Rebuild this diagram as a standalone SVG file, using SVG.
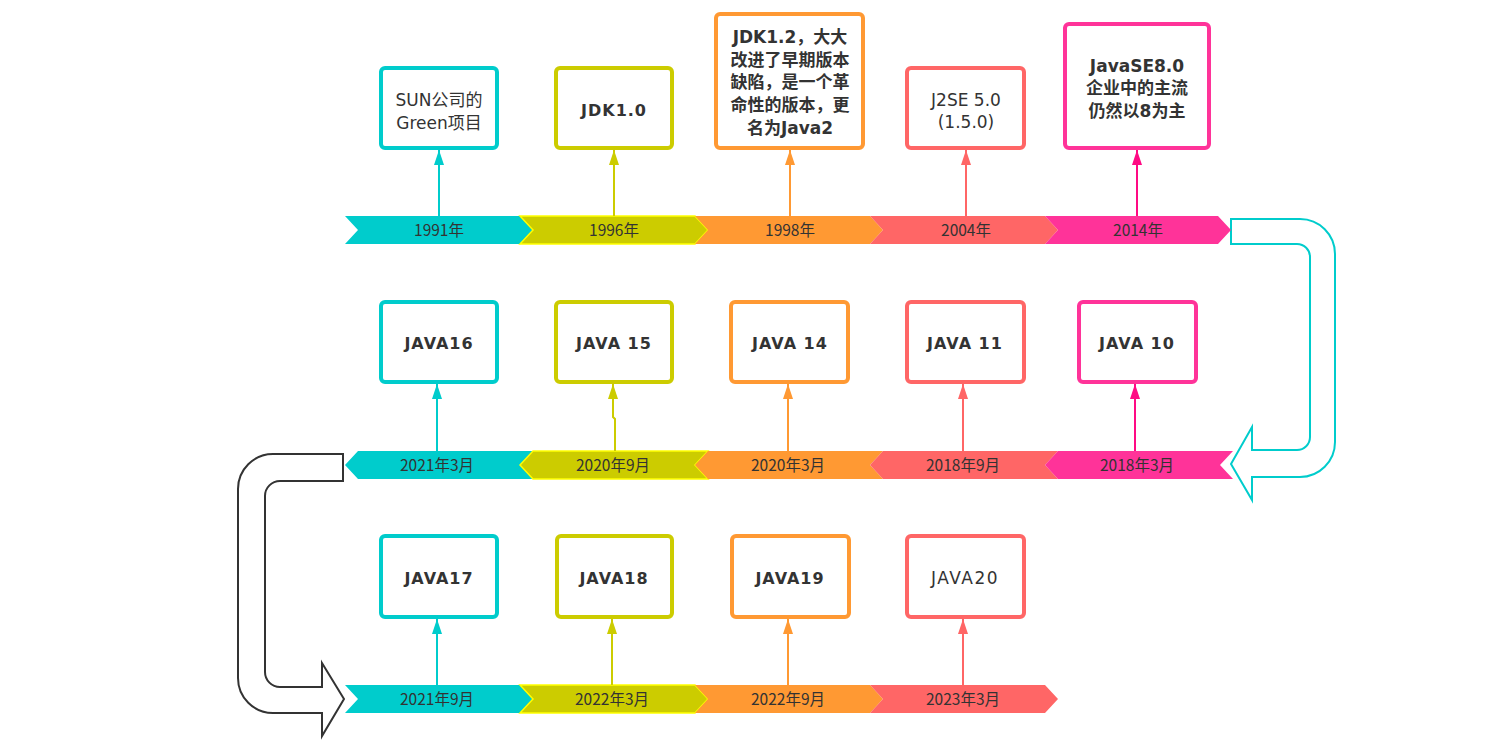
<svg xmlns="http://www.w3.org/2000/svg" width="1505" height="749" viewBox="0 0 1505 749">
<style>
.bg{fill:#ffffff}
.box{fill:#ffffff;stroke-width:4}
.c1{stroke:#00CCCC}.c2{stroke:#CCCC00}.c3{stroke:#FF9933}.c4{stroke:#FF6666}.c5{stroke:#FF3399}
.f1{fill:#00CCCC}.f2{fill:#CCCC00;stroke:#FFFF00;stroke-width:1.5}.f3{fill:#FF9933}.f4{fill:#FF6666}.f5{fill:#FF3399}
.lab{font-family:"Noto Sans CJK SC","Noto Sans",sans-serif;font-size:15.5px;fill:#333333;text-anchor:middle}
.bt{font-family:"DejaVu Sans","Noto Sans CJK SC",sans-serif;font-size:16px;font-weight:bold;fill:#333333;text-anchor:middle;letter-spacing:1px}
.nt{font-family:"DejaVu Sans","Noto Sans CJK SC",sans-serif;font-size:17px;fill:#333333;text-anchor:middle}
.ct{font-family:"DejaVu Sans","Noto Sans CJK SC",sans-serif;font-size:17px;font-weight:bold;fill:#333333;text-anchor:middle}
.ln{fill:none;stroke-width:2}
.a1{stroke:#00CCCC}.a2{stroke:#CCCC00}.a3{stroke:#FF9933}.a4{stroke:#FF6666}.a5{stroke:#FF0A84}
</style>
<defs>
<marker id="m1" viewBox="0 0 15 10" refX="15" refY="5" markerWidth="15" markerHeight="10" orient="auto" markerUnits="userSpaceOnUse"><path d="M0,0 L15,5 L0,10 Z" fill="#00CCCC"/></marker>
<marker id="m2" viewBox="0 0 15 10" refX="15" refY="5" markerWidth="15" markerHeight="10" orient="auto" markerUnits="userSpaceOnUse"><path d="M0,0 L15,5 L0,10 Z" fill="#CCCC00"/></marker>
<marker id="m3" viewBox="0 0 15 10" refX="15" refY="5" markerWidth="15" markerHeight="10" orient="auto" markerUnits="userSpaceOnUse"><path d="M0,0 L15,5 L0,10 Z" fill="#FF9933"/></marker>
<marker id="m4" viewBox="0 0 15 10" refX="15" refY="5" markerWidth="15" markerHeight="10" orient="auto" markerUnits="userSpaceOnUse"><path d="M0,0 L15,5 L0,10 Z" fill="#FF6666"/></marker>
<marker id="m5" viewBox="0 0 15 10" refX="15" refY="5" markerWidth="15" markerHeight="10" orient="auto" markerUnits="userSpaceOnUse"><path d="M0,0 L15,5 L0,10 Z" fill="#FF0A84"/></marker>
</defs>
<rect class="bg" x="0" y="0" width="1505" height="749"/>

<!-- turn arrows -->
<g id="turn-right">
<path d="M1231,219 L1300,219 A35,35 0 0 1 1335,254 L1335,442 A35,35 0 0 1 1300,477 L1252,477 L1252,500 L1231,464 L1252,427 L1252,450 L1297,450 A13,13 0 0 0 1310,437 L1310,257 A13,13 0 0 0 1297,244 L1231,244 Z" fill="#ffffff" stroke="#00CCCC" stroke-width="2"/>
</g>
<g id="turn-left">
<path d="M343,454 L273,454 A35,35 0 0 0 238,489 L238,678 A35,35 0 0 0 273,713 L322,713 L322,736 L344,699 L322,663 L322,687 L280,687 A15,15 0 0 1 265,672 L265,496 A15,15 0 0 1 280,481 L343,481 Z" fill="#ffffff" stroke="#333333" stroke-width="2"/>
</g>

<!-- row 1 band -->
<g id="band1">
<path class="f1" d="M345,216 L520,216 L533,230 L520,244 L345,244 L358,230 Z"/>
<path class="f2" d="M520,216 L695,216 L708,230 L695,244 L520,244 L533,230 Z"/>
<path class="f3" d="M695,216 L870,216 L883,230 L870,244 L695,244 L708,230 Z"/>
<path class="f4" d="M870,216 L1045,216 L1058,230 L1045,244 L870,244 L883,230 Z"/>
<path class="f5" d="M1045,216 L1218,216 L1231,230 L1218,244 L1045,244 L1058,230 Z"/>
<text class="lab" x="439" y="236">1991年</text>
<text class="lab" x="614" y="236">1996年</text>
<text class="lab" x="790" y="236">1998年</text>
<text class="lab" x="966" y="236">2004年</text>
<text class="lab" x="1138" y="236">2014年</text>
</g>

<!-- row 2 band -->
<g id="band2">
<path class="f1" d="M345,465 L358,451 L533,451 L520,465 L533,479 L358,479 Z"/>
<path class="f2" d="M520,465 L533,451 L708,451 L695,465 L708,479 L533,479 Z"/>
<path class="f3" d="M695,465 L708,451 L883,451 L870,465 L883,479 L708,479 Z"/>
<path class="f4" d="M870,465 L883,451 L1058,451 L1045,465 L1058,479 L883,479 Z"/>
<path class="f5" d="M1045,465 L1058,451 L1233,451 L1220,465 L1233,479 L1058,479 Z"/>
<text class="lab" x="437" y="471">2021年3月</text>
<text class="lab" x="613" y="471">2020年9月</text>
<text class="lab" x="788" y="471">2020年3月</text>
<text class="lab" x="963" y="471">2018年9月</text>
<text class="lab" x="1137" y="471">2018年3月</text>
</g>

<!-- row 3 band -->
<g id="band3">
<path class="f1" d="M345,685 L520,685 L533,699 L520,713 L345,713 L358,699 Z"/>
<path class="f2" d="M520,685 L695,685 L708,699 L695,713 L520,713 L533,699 Z"/>
<path class="f3" d="M695,685 L870,685 L883,699 L870,713 L695,713 L708,699 Z"/>
<path class="f4" d="M870,685 L1045,685 L1058,699 L1045,713 L870,713 L883,699 Z"/>
<text class="lab" x="437" y="705">2021年9月</text>
<text class="lab" x="612" y="705">2022年3月</text>
<text class="lab" x="788" y="705">2022年9月</text>
<text class="lab" x="963" y="705">2023年3月</text>
</g>

<!-- connectors -->
<g id="connectors">
<path class="ln a1" d="M439,216 V150" marker-end="url(#m1)"/>
<path class="ln a2" d="M614,216 V150" marker-end="url(#m2)"/>
<path class="ln a3" d="M790,216 V150" marker-end="url(#m3)"/>
<path class="ln a4" d="M966,216 V150" marker-end="url(#m4)"/>
<path class="ln a5" d="M1137,216 V150" marker-end="url(#m5)"/>
<path class="ln a1" d="M437,451 V384" marker-end="url(#m1)"/>
<path class="ln a2" d="M615,451 V419 L613,417 V384" marker-end="url(#m2)"/>
<path class="ln a3" d="M788,451 V384" marker-end="url(#m3)"/>
<path class="ln a4" d="M963,451 V384" marker-end="url(#m4)"/>
<path class="ln a5" d="M1135,451 V384" marker-end="url(#m5)"/>
<path class="ln a1" d="M437,685 V619" marker-end="url(#m1)"/>
<path class="ln a2" d="M612,685 V619" marker-end="url(#m2)"/>
<path class="ln a3" d="M788,685 V619" marker-end="url(#m3)"/>
<path class="ln a4" d="M963,685 V619" marker-end="url(#m4)"/>
</g>

<!-- row 1 nodes -->
<g id="n1991"><rect class="box c1" x="381" y="68" width="116" height="80" rx="4"/>
<text class="nt" x="439" y="106">SUN公司的</text><text class="nt" x="439" y="129">Green项目</text></g>
<g id="n1996"><rect class="box c2" x="556" y="68" width="116" height="80" rx="4"/>
<text class="bt" x="614" y="116">JDK1.0</text></g>
<g id="n1998"><rect class="box c3" x="716" y="14" width="147" height="134" rx="4"/>
<text class="ct" x="790" y="43">JDK1.2，大大</text>
<text class="ct" x="790" y="66">改进了早期版本</text>
<text class="ct" x="790" y="88">缺陷，是一个革</text>
<text class="ct" x="790" y="111">命性的版本，更</text>
<text class="ct" x="790" y="134">名为Java2</text></g>
<g id="n2004"><rect class="box c4" x="907" y="68" width="117" height="80" rx="4"/>
<text class="nt" x="966" y="106">J2SE 5.0</text><text class="nt" x="966" y="128">(1.5.0)</text></g>
<g id="n2014"><rect class="box c5" x="1065" y="24" width="144" height="124" rx="4"/>
<text class="ct" x="1137" y="72">JavaSE8.0</text>
<text class="ct" x="1137" y="94">企业中的主流</text>
<text class="ct" x="1137" y="117">仍然以8为主</text></g>

<!-- row 2 nodes -->
<g id="j16"><rect class="box c1" x="381" y="302" width="116" height="80" rx="4"/><text class="bt" x="439" y="349">JAVA16</text></g>
<g id="j15"><rect class="box c2" x="556" y="302" width="116" height="80" rx="4"/><text class="bt" x="614" y="349">JAVA 15</text></g>
<g id="j14"><rect class="box c3" x="731" y="302" width="117" height="80" rx="4"/><text class="bt" x="790" y="349">JAVA 14</text></g>
<g id="j11"><rect class="box c4" x="907" y="302" width="117" height="80" rx="4"/><text class="bt" x="965" y="349">JAVA 11</text></g>
<g id="j10"><rect class="box c5" x="1079" y="302" width="117" height="80" rx="4"/><text class="bt" x="1137" y="349">JAVA 10</text></g>

<!-- row 3 nodes -->
<g id="j17"><rect class="box c1" x="381" y="536" width="116" height="81" rx="4"/><text class="bt" x="439" y="584">JAVA17</text></g>
<g id="j18"><rect class="box c2" x="557" y="536" width="115" height="81" rx="4"/><text class="bt" x="614" y="584">JAVA18</text></g>
<g id="j19"><rect class="box c3" x="732" y="536" width="117" height="81" rx="4"/><text class="bt" x="790" y="584">JAVA19</text></g>
<g id="j20"><rect class="box c4" x="907" y="536" width="117" height="81" rx="4"/><text class="nt" x="965" y="584" style="letter-spacing:1.5px">JAVA20</text></g>
</svg>
